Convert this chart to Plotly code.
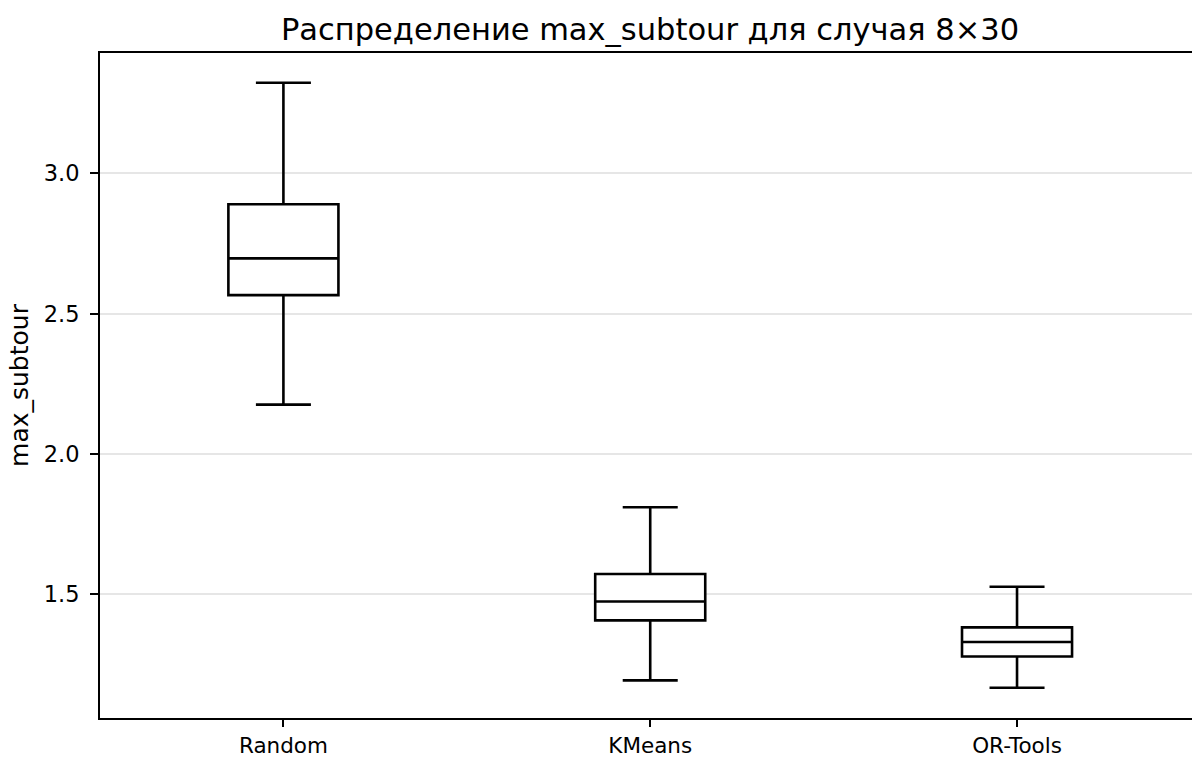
import plotly.graph_objects as go

# Summary statistics of max_subtour per method (8 vehicles x 30 points)
methods = ["Random", "KMeans", "OR-Tools"]
lower_whisker = [2.176, 1.193, 1.167]
q1_values = [2.566, 1.407, 1.278]
medians = [2.697, 1.474, 1.330]
q3_values = [2.890, 1.572, 1.382]
upper_whisker = [3.323, 1.810, 1.527]

fig = go.Figure()
for i, name in enumerate(methods):
    fig.add_trace(go.Box(
        x=[name],
        q1=[q1_values[i]],
        median=[medians[i]],
        q3=[q3_values[i]],
        lowerfence=[lower_whisker[i]],
        upperfence=[upper_whisker[i]],
        width=0.3,
        whiskerwidth=0.5,
        fillcolor="white",
        line=dict(color="black", width=2.6),
        boxpoints=False,
        showlegend=False,
        hoverinfo="skip",
    ))

font_family = "DejaVu Sans"
tick_size = 22.5

fig.update_layout(
    width=1192,
    height=757,
    margin=dict(l=100, r=0, t=53, b=39),
    paper_bgcolor="white",
    plot_bgcolor="white",
    font=dict(family=font_family, color="black", size=tick_size),
    title=dict(
        text="Распределение max_subtour для случая 8×30",
        x=650 / 1192,
        xanchor="center",
        y=1 - 29 / 757,
        yanchor="middle",
        yref="container",
        font=dict(family=font_family, size=30.5, color="black"),
    ),
)

fig.update_xaxes(
    type="category",
    categoryorder="array",
    categoryarray=methods,
    range=[-0.5, 2.477],
    automargin=False,
    showline=True,
    linecolor="black",
    linewidth=2,
    mirror=True,
    ticks="outside",
    ticklen=7,
    tickwidth=1.5,
    tickcolor="black",
    showgrid=False,
    zeroline=False,
    ticklabelstandoff=0,
    tickfont=dict(size=21.5),
)

fig.update_yaxes(
    range=[1.059, 3.429],
    tickvals=[1.5, 2.0, 2.5, 3.0],
    ticktext=["1.5", "2.0", "2.5", "3.0"],
    automargin=False,
    showline=True,
    linecolor="black",
    linewidth=2,
    mirror=False,
    ticks="outside",
    ticklen=8,
    tickwidth=1.5,
    tickcolor="black",
    showgrid=True,
    gridcolor="#e6e6e6",
    gridwidth=1.5,
    zeroline=False,
    ticklabelstandoff=6,
    tickfont=dict(size=tick_size),
    title=dict(text="max_subtour", font=dict(size=25), standoff=8),
)

fig.write_html("out.html")
